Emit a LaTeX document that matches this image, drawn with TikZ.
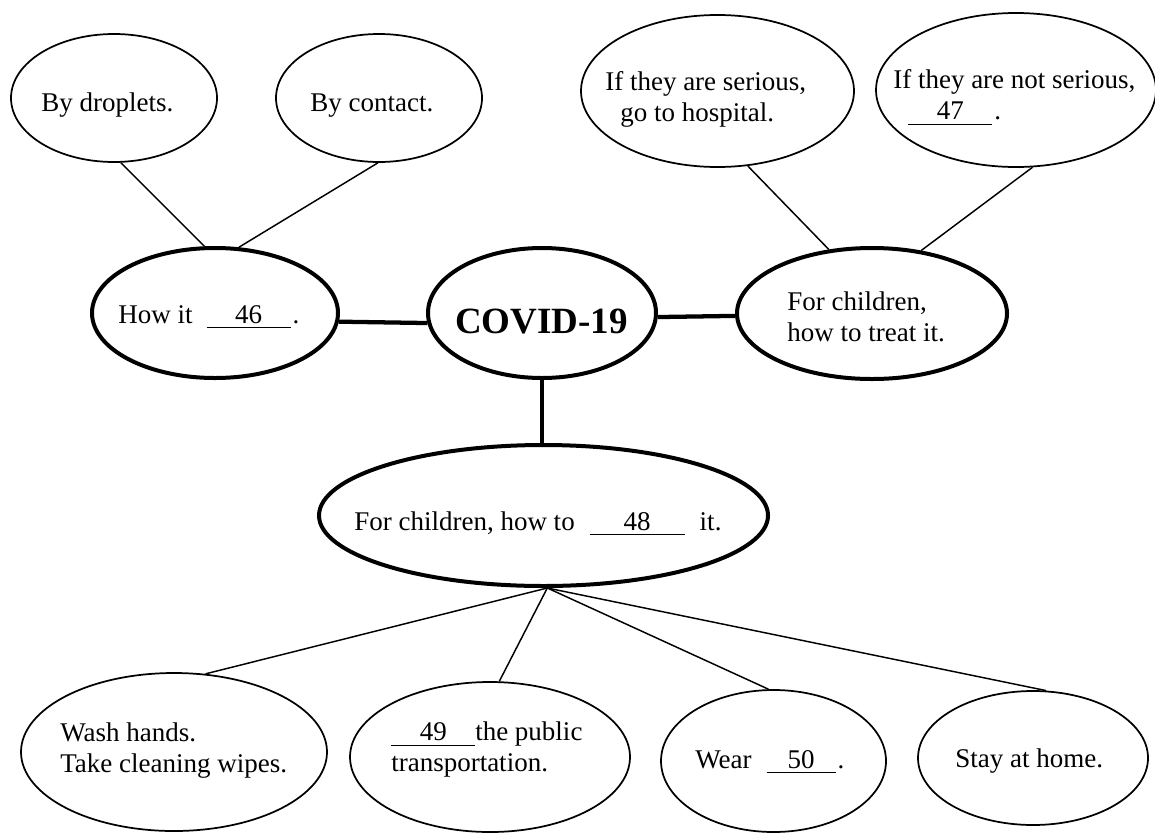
\documentclass[tikz,border=0pt]{standalone}
\usepackage{fontspec}
\setmainfont{Liberation Serif}
\newfontfamily\tnr{Liberation Serif}
\usetikzlibrary{shapes.geometric}
\newcommand\fs{\tnr\fontsize{20.25pt}{23.6pt}\selectfont}
\newcommand\fsbig{\tnr\fontsize{27.75pt}{32pt}\selectfont\bfseries}
\newcommand\blank[2]{\makebox[#1]{#2}\llap{\rule[-4pt]{#1}{0.75pt}}}
\tikzset{
  ell/.style={ellipse, draw, line width=1.3pt, inner sep=0pt},
  thickell/.style={ellipse, draw, line width=3pt, inner sep=0pt},
  txt/.style={font=\fs, inner sep=0pt, align=left},
  conn/.style={line width=1.1pt},
  mainconn/.style={line width=3.2pt},
}
\begin{document}
\begin{tikzpicture}[x=0.75pt,y=-0.75pt]
\useasboundingbox (0,0) rectangle (1155,832);
% ellipses
\node[ell, minimum width=154.5pt, minimum height=96pt] (drop) at (114,98) {};
\node[ell, minimum width=154.5pt, minimum height=96pt] (contact) at (379,98) {};
\node[thickell, minimum width=184.5pt, minimum height=97.5pt] (how) at (215,313) {};
\node[thickell, minimum width=171pt, minimum height=97.5pt] (covid) at (542,313) {};
\node[thickell, minimum width=202.5pt, minimum height=98.25pt] (treat) at (872,313.5) {};
\node[ell, minimum width=204.75pt, minimum height=114pt] (serious) at (717.5,91) {};
\node[ell, minimum width=210pt, minimum height=115.5pt] (notser) at (1016,90) {};
\node[thickell, minimum width=336.75pt, minimum height=105.75pt] (q48) at (543.5,515.5) {};
\node[ell, minimum width=229.5pt, minimum height=118.5pt] (wash) at (174,752) {};
\node[ell, minimum width=210pt, minimum height=112.5pt] (pub) at (490,757) {};
\node[ell, minimum width=168.75pt, minimum height=106.5pt] (wear) at (773.5,761) {};
\node[ell, minimum width=172.5pt, minimum height=100.5pt] (stay) at (1033,758) {};
% texts
\node[txt, anchor=base west] (tdrop) at (41,111) {By droplets.};
\node[txt, anchor=base west] (tcontact) at (310,111) {By contact.};
\node[txt, anchor=base west] (thow) at (118,323) {How it\hspace{10.5pt}\blank{63pt}{46}\hspace{1.5pt}.};
\node[txt, font=\fsbig, anchor=base west] (tcovid) at (455,333) {COVID-19};
\node[txt, anchor=north west] (ttreat) at (787,288) {\strut For children,\\\strut how to treat it.};
\node[txt, anchor=north west] (tser) at (605,68) {\strut If they are serious,\\\strut\hspace{11.25pt}go to hospital.};
\node[txt, anchor=north west] (tnot) at (893,66) {\strut If they are not serious,\\\strut\hspace{11.25pt}\blank{63pt}{47}\hspace{1.5pt}.};
\node[txt, anchor=base west] (t48) at (354,530) {For children, how to\hspace{11.25pt}\blank{71.25pt}{48}\hspace{11.25pt}it.};
\node[txt, anchor=north west] (twash) at (60,719) {\strut Wash hands.\\\strut Take cleaning wipes.};
\node[txt, anchor=north west] (tpub) at (391,718) {\strut\blank{63pt}{49}the public\\\strut transportation.};
\node[txt, anchor=base west] (twear) at (695,768) {Wear\hspace{11.25pt}\blank{51.75pt}{50}\hspace{1.5pt}.};
\node[txt, anchor=base west] (tstay) at (955,767) {Stay at home.};
% connectors
\draw[conn] (drop.-84) -- (how.99);
\draw[conn] (contact.-91) -- (how.70.5);
\draw[conn] (serious.-68) -- (treat.124);
\draw[conn] (notser.-78) -- (treat.52.6);
\draw[mainconn] (how.-4.7) -- (covid.185);
\draw[mainconn] (covid.-2) -- (treat.181.7);
\draw[mainconn] (covid.south) -- (covid.south |- q48.north);
\draw[conn] (q48.-87) -- (wash.68);
\draw[conn] (q48.-87) -- (pub.83);
\draw[conn] (q48.-87) -- (wear.94);
\draw[conn] (q48.-87) -- (stay.79);
\end{tikzpicture}
\end{document}
